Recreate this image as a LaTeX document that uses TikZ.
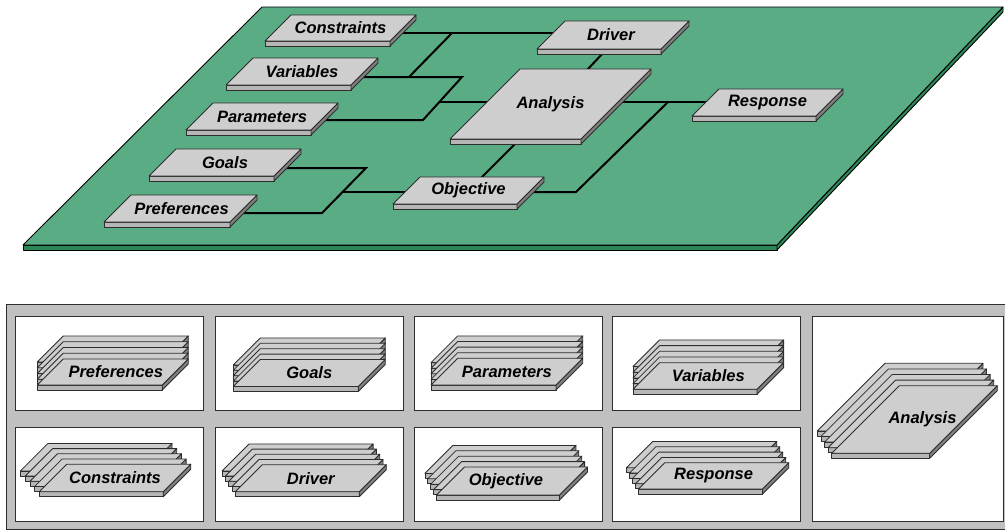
\documentclass[tikz,border=0pt]{standalone}
\usepackage{fontspec}
\setmainfont{Liberation Sans}
\usetikzlibrary{calc}
\pgfdeclarelayer{plane}
\pgfdeclarelayer{wires}
\pgfsetlayers{plane,wires,main}

\definecolor{boardtop}{RGB}{90,172,132}
\definecolor{boardedge}{RGB}{44,135,86}
\definecolor{slabtopc}{RGB}{206,206,206}
\definecolor{slabfrontc}{RGB}{182,182,182}
\definecolor{slabsidec}{RGB}{128,128,128}
\definecolor{outline}{RGB}{45,45,45}
\definecolor{panelgray}{RGB}{192,192,192}

\tikzset{
  topface/.style={fill=slabtopc, draw=outline, line width=0.8pt, line join=round},
  frontface/.style={fill=slabfrontc, draw=outline, line width=0.8pt, line join=round},
  sideface/.style={fill=slabsidec, draw=outline, line width=0.8pt, line join=round},
  slablabel/.style={font=\fontsize{16.5}{18}\selectfont\bfseries\itshape, inner sep=0pt},
  wire/.style={draw=black, line width=2pt},
  cell/.style={fill=white, draw=outline, line width=0.9pt},
  boardface/.style={draw=black, line width=0.9pt, line join=round},
}

% a flat 3-D slab: #1,#2 front-left corner of the top face, #3 width, #4 depth
\newcommand\slabshape[4]{%
  \path[frontface] (#1,#2) -- ++(#3,0) -- ++(0,5) -- ++(-#3,0) -- cycle;
  \path[sideface] (#1+#3,#2) -- ++(#4,-#4) -- ++(0,5) -- ++(-#4,#4) -- cycle;
  \path[topface] (#1,#2) -- ++(#3,0) -- ++(#4,-#4) -- ++(-#3,0) -- cycle;
}
% labelled slab: [#1 label shift], #2 name, #3 x, #4 y, #5 width, #6 depth, #7 label
\newcommand\slab[7][0]{%
  \slabshape{#3}{#4}{#5}{#6}
  \node[slablabel] (#2) at (#3+#5/2+#6/2+#1, #4-#6/2) {#7};
}
% pile of five slabs: #7,#8 step back (left, up) between sheets
\newcommand\slabstack[9][0]{%
  \foreach \k in {4,3,2,1} {\slabshape{#3-\k*#7}{#4-\k*#8}{#5}{#6}}
  \slab[#1]{#2}{#3}{#4}{#5}{#6}{#9}
}

\begin{document}
\begin{tikzpicture}[x=1pt,y=-1pt]
\useasboundingbox (0,0) rectangle (1005,531);

% ---------- the board ----------
\begin{pgfonlayer}{plane}
  \path[boardface, fill=boardedge] (23,245) -- (777,245) -- (777,250) -- (23,250) -- cycle;
  \path[boardface, fill=boardedge] (777,245) -- (1003,7) -- (1003,12) -- (777,250) -- cycle;
  \path[boardface, fill=boardtop] (23,245) -- (262,7) -- (1003,7) -- (777,245) -- cycle;
\end{pgfonlayer}

% ---------- modules on the board ----------
\slab{constraints}{265}{41}{125}{26}{Constraints}
\slab{variables}{226}{85}{125}{27}{Variables}
\slab{parameters}{186}{130}{125}{27}{Parameters}
\slab{goals}{149}{176}{125}{27}{Goals}
\slab[1]{preferences}{104}{222}{126}{27}{Preferences}
\slab{objective}{393}{204}{124}{27}{Objective}
\slab[-2]{driver}{537}{49}{124}{28}{Driver}
\slab{response}{692}{116}{124}{27}{Response}
\slab{analysis}{450}{139}{131}{70}{Analysis}

% ---------- wiring ----------
\begin{pgfonlayer}{wires}
  \coordinate (j1) at (452,33);
  \coordinate (j2) at (409,77);
  \coordinate (j3) at (462,77);
  \coordinate (j4) at (423,120);
  \coordinate (j5) at (440,101.5);
  \coordinate (j6) at (366,168);
  \coordinate (j7) at (322,213);
  \coordinate (j8) at (343,192);
  \coordinate (j9) at (668,102);
  \coordinate (j10) at (576,192);

  \draw[wire] (constraints |- j1) -- (driver |- j1);
  \draw[wire] (j1) -- (j2);
  \draw[wire] (variables |- j3) -- (j3) -- (j4) -- (parameters |- j4);
  \draw[wire] (j5) -- (analysis |- j5);
  \draw[wire] (goals |- j6) -- (j6) -- (j7) -- (preferences |- j7);
  \draw[wire] (j8) -- (objective |- j8);
  \draw[wire] ([xshift=9pt]driver.center) -- ([xshift=4.5pt]analysis.center);
  \draw[wire] ([xshift=4.5pt]analysis.center) -- (objective.center);
  \draw[wire] (analysis |- j9) -- (response |- j9);
  \draw[wire] (objective |- j10) -- (j10) -- (j9);
\end{pgfonlayer}

% ---------- module library ----------
\path[fill=panelgray, draw=outline, line width=1pt] (6,304.5) rectangle (1012,529.5);
\path[cell] (15,316) rectangle (203.5,410);
\path[cell] (215.7,316) rectangle (403.3,410);
\path[cell] (414.3,316) rectangle (602,410);
\path[cell] (612.8,316) rectangle (800.5,410);
\path[cell] (15,427.3) rectangle (203.5,521);
\path[cell] (215.7,427.3) rectangle (403.3,521);
\path[cell] (414.3,427.3) rectangle (602,521);
\path[cell] (612.8,427.3) rectangle (800.5,521);
\path[cell] (812.5,316) rectangle (1003,521);

\slabstack[3]{preferencesset}{37.3}{385}{125}{26}{0}{5.75}{Preferences}
\slabstack{goalsset}{233.3}{386.5}{125}{27}{0}{5.4}{Goals}
\slabstack{parametersset}{431}{385}{125}{26.7}{0}{5.6}{Parameters}
\slabstack{variablesset}{633}{389.3}{124}{26.6}{0}{5.7}{Variables}
\slabstack{constraintsset}{39.3}{491.7}{124}{27.5}{4.7}{5.2}{Constraints}
\slabstack{driverset}{235.3}{491.7}{124}{27}{3.3}{5.2}{Driver}
\slabstack[-6]{objectiveset}{436.5}{495}{123}{28}{2.9}{5.4}{Objective}
\slabstack{responseset}{638.5}{489}{124}{26.3}{3}{5.3}{Response}
\slabstack[8]{analysisset}{831.7}{453.3}{98}{67.6}{3.6}{5.6}{Analysis}
\end{tikzpicture}
\end{document}
